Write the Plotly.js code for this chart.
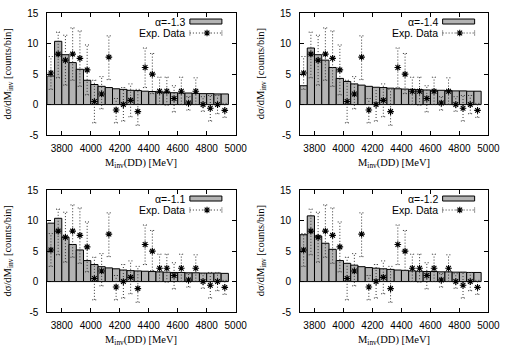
<!DOCTYPE html>
<html><head><meta charset="utf-8">
<script src="https://cdn.plot.ly/plotly-3.0.1.min.js"></script>
<style>html,body{margin:0;padding:0;background:#fff}#c{width:506px;height:354px}</style>
</head><body><div id="c"></div>
<script>
// bin centres (50 MeV bins)
const binCenters = [3725, 3775, 3825, 3875, 3925, 3975, 4025, 4075, 4125, 4175, 4225, 4275, 4325,
                    4375, 4425, 4475, 4525, 4575, 4625, 4675, 4725, 4775, 4825, 4875, 4925];
const binWidth = 50;
// model histograms
const barA13 = [4.7, 10.4, 8.2, 6.9, 5.8, 4.0, 3.3, 3.0, 2.8, 2.6, 2.5, 2.35, 2.3, 2.2, 2.15, 2.05, 2.0, 1.95, 1.9, 1.9, 1.85, 1.8, 1.8, 1.75, 1.75];
const barA14 = [3.1, 9.3, 8.2, 7.3, 6.1, 4.3, 3.8, 3.4, 3.2, 3.0, 2.85, 2.8, 2.7, 2.6, 2.55, 2.5, 2.45, 2.4, 2.35, 2.35, 2.3, 2.25, 2.25, 2.2, 2.2];
const barA11 = [9.6, 10.4, 7.3, 6.1, 5.2, 3.45, 2.8, 2.45, 2.25, 2.1, 1.9, 1.8, 1.75, 1.7, 1.65, 1.6, 1.55, 1.5, 1.5, 1.45, 1.45, 1.4, 1.4, 1.4, 1.35];
const barA12 = [7.7, 10.8, 7.5, 6.3, 5.3, 3.45, 3.0, 2.7, 2.45, 2.3, 2.2, 2.1, 2.0, 1.9, 1.85, 1.75, 1.7, 1.65, 1.65, 1.6, 1.6, 1.55, 1.55, 1.5, 1.5];
// experimental data
const expY  = [5.2, 8.3, 7.3, 8.3, 7.6, 5.7, 0.5, 1.75, 7.8, -0.9, 0.0, 0.7, -1.15, 6.1, 5.0, 2.2, 2.2, 1.0, 2.2, 0.25, 2.2, 0.0, -0.6, 0.0, -0.95];
const expHi = [7.9, 11.9, 11.4, 12.6, 12.1, 9.8, 4.0, 4.6, 11.3, 1.0, 2.8, 3.4, 2.5, 9.3, 8.4, 4.5, 4.5, 3.1, 4.5, 1.3, 4.4, 1.3, 1.5, 1.5, 0.2];
const expLo = [2.5, 4.4, 3.2, 4.0, 3.0, 1.6, -3.0, -0.7, 4.1, -3.0, -2.7, -2.0, -3.4, 2.8, 1.8, 0.0, -0.1, -1.2, 0.0, -0.9, 0.0, -1.1, -2.7, -1.5, -2.1];
// ticks
const xTicks = [3800, 4000, 4200, 4400, 4600, 4800, 5000];
const yTicks = [-5, 0, 5, 10, 15];
const alphaLabels = ['α=-1.3', 'α=-1.4', 'α=-1.1', 'α=-1.2'];

const XR = [3700, 5000], YR = [-5, 15];
const capHalf = 15;
const panels = [
  {bars: barA13, label: alphaLabels[0], n: '',  xd: [0.0935, 0.4657], yd: [0.6186, 0.9624]},
  {bars: barA14, label: alphaLabels[1], n: '2', xd: [0.5929, 0.9652], yd: [0.6186, 0.9624]},
  {bars: barA11, label: alphaLabels[2], n: '3', xd: [0.0935, 0.4657], yd: [0.1186, 0.4624]},
  {bars: barA12, label: alphaLabels[3], n: '4', xd: [0.5929, 0.9652], yd: [0.1186, 0.4624]}
];

// error bar polyline (dotted), built from the data
const ebx = [], eby = [];
binCenters.forEach((c, i) => {
  ebx.push(c, c, null, c - capHalf, c + capHalf, null, c - capHalf, c + capHalf, null);
  eby.push(expLo[i], expHi[i], null, expHi[i], expHi[i], null, expLo[i], expLo[i], null);
});

const traces = [], shapes = [], annotations = [];
const layout = {
  width: 506, height: 354, margin: {l: 0, r: 0, t: 0, b: 0},
  paper_bgcolor: '#fff', plot_bgcolor: '#fff', showlegend: false,
  bargap: 0, barmode: 'overlay',
  font: {family: 'Liberation Sans, Arial, sans-serif', size: 10, color: '#000'}
};
const serif = 'Liberation Serif, Times New Roman, serif';
const sans = 'Liberation Sans, Arial, sans-serif';
const starMarker = {symbol: 'asterisk-open', size: 5.5, color: '#000', line: {color: '#000', width: 1.1}};

// legend geometry (domain fractions)
const LG = {textX: 0.741, row1: 0.929, row2: 0.838, sx0: 0.757, sx1: 0.927, bx0: 0.912, bx1: 0.953, starX: 0.848};

panels.forEach(p => {
  const xa = 'x' + p.n, ya = 'y' + p.n;
  traces.push({type: 'bar', x: binCenters, y: p.bars, width: binWidth, xaxis: xa, yaxis: ya,
    marker: {color: '#b3b3b3', line: {color: '#000', width: 1}}, hoverinfo: 'skip'});
  traces.push({type: 'scatter', mode: 'lines', x: ebx, y: eby, xaxis: xa, yaxis: ya,
    line: {color: '#333', width: 1, dash: '1px,2px'}, connectgaps: false, hoverinfo: 'skip'});
  traces.push({type: 'scatter', mode: 'markers', x: binCenters, y: expY, xaxis: xa, yaxis: ya,
    marker: starMarker});
  // legend star sample
  traces.push({type: 'scatter', mode: 'markers', xaxis: xa, yaxis: ya,
    x: [XR[0] + LG.starX * (XR[1] - XR[0])], y: [YR[0] + LG.row2 * (YR[1] - YR[0])],
    marker: starMarker, hoverinfo: 'skip'});

  const axX = {domain: p.xd, anchor: ya, range: XR, tickvals: xTicks, ticktext: xTicks.map(String),
    ticks: 'inside', ticklen: 4, tickcolor: '#000', showline: true, linecolor: '#000', linewidth: 1,
    mirror: 'ticks', showgrid: false, zeroline: false, tickfont: {family: sans, size: 10, color: '#000'},
    ticklabelstandoff: 4};
  const axY = {domain: p.yd, anchor: xa, range: YR, tickvals: yTicks, ticktext: yTicks.map(String),
    ticks: 'inside', ticklen: 4, tickcolor: '#000', showline: true, linecolor: '#000', linewidth: 1,
    mirror: 'ticks', showgrid: false, zeroline: false, tickfont: {family: sans, size: 10, color: '#000'},
    ticklabelstandoff: 6};
  layout['xaxis' + p.n] = axX;
  layout['yaxis' + p.n] = axY;

  const xdr = xa + ' domain', ydr = ya + ' domain';
  // legend texts
  annotations.push({xref: xdr, yref: ydr, x: LG.textX, y: LG.row1, xanchor: 'right', yanchor: 'middle',
    text: p.label, showarrow: false, font: {family: sans, size: 10.5, color: '#000'}});
  annotations.push({xref: xdr, yref: ydr, x: LG.textX, y: LG.row2, xanchor: 'right', yanchor: 'middle',
    text: 'Exp. Data', showarrow: false, font: {family: sans, size: 10.5, color: '#000'}});
  // legend box sample
  shapes.push({type: 'rect', xref: xdr, yref: ydr, x0: LG.sx0, x1: LG.sx1, y0: LG.bx0, y1: LG.bx1,
    fillcolor: '#b3b3b3', line: {color: '#000', width: 1}});
  // legend errorbar sample line
  shapes.push({type: 'line', xref: xdr, yref: ydr, x0: LG.sx0, x1: LG.sx1, y0: LG.row2, y1: LG.row2,
    line: {color: '#333', width: 1, dash: '1px,2px'}});
  shapes.push({type: 'line', xref: xdr, yref: ydr, x0: LG.sx0, x1: LG.sx0, y0: LG.row2 - 0.02, y1: LG.row2 + 0.02,
    line: {color: '#333', width: 1, dash: '1px,1px'}});
  shapes.push({type: 'line', xref: xdr, yref: ydr, x0: LG.sx1, x1: LG.sx1, y0: LG.row2 - 0.02, y1: LG.row2 + 0.02,
    line: {color: '#333', width: 1, dash: '1px,1px'}});

  // axis titles
  const midY = (p.yd[0] + p.yd[1]) / 2;
  annotations.push({xref: 'paper', yref: 'paper', x: p.xd[0] - 39 / 506, y: midY, xanchor: 'center', yanchor: 'middle',
    textangle: -90, showarrow: false, text: 'dσ/dM<sub>inv</sub> [counts/bin]', font: {family: serif, size: 10.5, color: '#000'}});
  annotations.push({xref: 'paper', yref: 'paper', x: (p.xd[0] + p.xd[1]) / 2, y: p.yd[0] - 28 / 354, xanchor: 'center', yanchor: 'middle',
    showarrow: false, text: 'M<sub>inv</sub>(DD) [MeV]', font: {family: serif, size: 10.5, color: '#000'}});
});
layout.shapes = shapes;
layout.annotations = annotations;
Plotly.newPlot('c', traces, layout, {staticPlot: true, displayModeBar: false});
</script></body></html>
